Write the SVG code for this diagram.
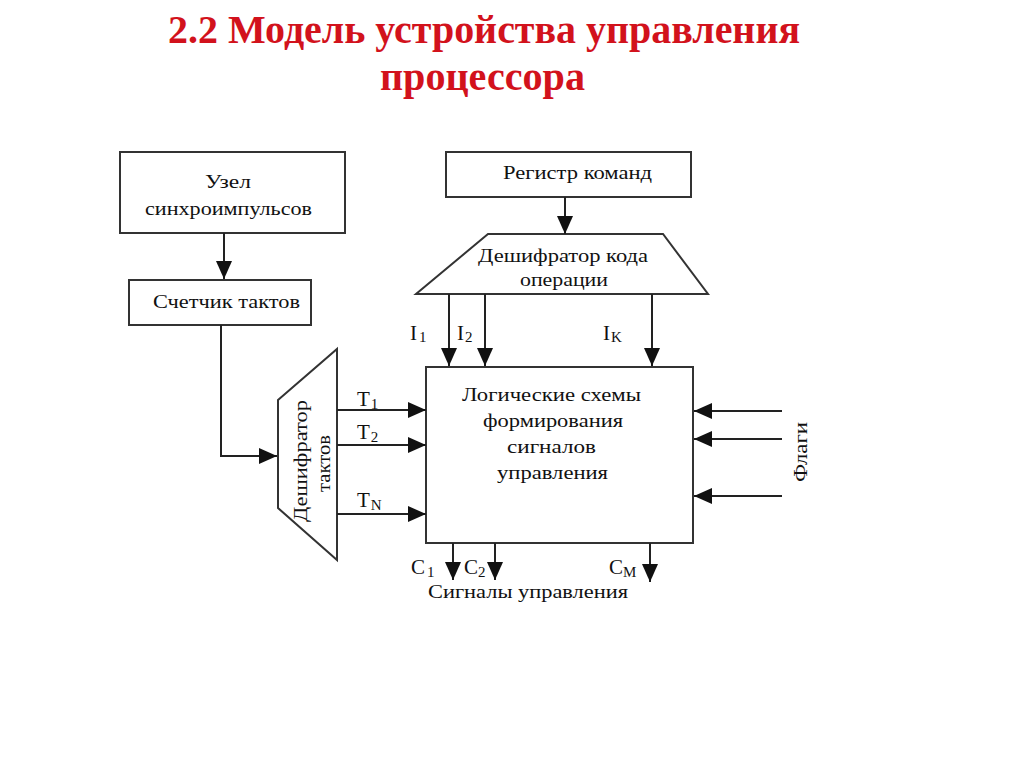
<svg xmlns="http://www.w3.org/2000/svg" width="1024" height="767" viewBox="0 0 1024 767">
<style>
.box{fill:#fff;stroke:#333;stroke-width:2}
.t{font-family:"Liberation Serif","Times New Roman",serif;font-size:18px;fill:#111}
.lab{font-family:"Liberation Serif","Times New Roman",serif;font-size:21px;fill:#111}
.sub{font-size:15px}
.title{font-family:"Liberation Serif","Times New Roman",serif;font-weight:bold;font-size:41px;fill:#d2121c}
.ln{stroke:#222;stroke-width:2;fill:none;marker-end:url(#ah)}
</style>
<defs>
<marker id="ah" markerUnits="userSpaceOnUse" viewBox="0 0 18 16" markerWidth="18" markerHeight="16" refX="18" refY="8" orient="auto">
<path d="M0,0 L18,8 L0,16 z" fill="#111"/>
</marker>
</defs>
<rect width="1024" height="767" fill="#fff"/>
<g id="title">
<text class="title" x="168" y="43" textLength="632" lengthAdjust="spacingAndGlyphs">2.2 Модель устройства управления</text>
<text class="title" x="380" y="90" textLength="205" lengthAdjust="spacingAndGlyphs">процессора</text>
</g>
<g id="uzel">
<rect class="box" x="120" y="152" width="225" height="81"/>
<text class="t" x="205" y="188" textLength="46" lengthAdjust="spacingAndGlyphs">Узел</text>
<text class="t" x="145" y="215" textLength="167" lengthAdjust="spacingAndGlyphs">синхроимпульсов</text>
</g>
<g id="schetchik">
<rect class="box" x="129" y="280" width="182" height="45"/>
<text class="t" x="153" y="308" textLength="147" lengthAdjust="spacingAndGlyphs">Счетчик тактов</text>
</g>
<g id="registr">
<rect class="box" x="446" y="152" width="245" height="45"/>
<text class="t" x="503" y="179" textLength="149" lengthAdjust="spacingAndGlyphs">Регистр команд</text>
</g>
<g id="deshifrator-koda">
<polygon class="box" points="488,234 663,234 708,294 416,294"/>
<text class="t" x="478" y="262" textLength="170" lengthAdjust="spacingAndGlyphs">Дешифратор кода</text>
<text class="t" x="520" y="286" textLength="88" lengthAdjust="spacingAndGlyphs">операции</text>
</g>
<g id="deshifrator-taktov">
<polygon class="box" points="278,400 337,349 337,560 278,508"/>
<text class="t" transform="translate(307,522) rotate(-90)" x="0" y="0" textLength="122" lengthAdjust="spacingAndGlyphs">Дешифратор</text>
<text class="t" transform="translate(330,492) rotate(-90)" x="0" y="0" textLength="57" lengthAdjust="spacingAndGlyphs">тактов</text>
</g>
<g id="logic">
<rect class="box" x="426" y="367" width="267" height="176"/>
<text class="t" x="462" y="401" textLength="179" lengthAdjust="spacingAndGlyphs">Логические схемы</text>
<text class="t" x="483" y="427" textLength="140" lengthAdjust="spacingAndGlyphs">формирования</text>
<text class="t" x="507" y="453" textLength="89" lengthAdjust="spacingAndGlyphs">сигналов</text>
<text class="t" x="497" y="479" textLength="111" lengthAdjust="spacingAndGlyphs">управления</text>
</g>
<g id="connectors">
<line class="ln" x1="224" y1="233" x2="224" y2="279"/>
<polyline class="ln" points="221,325 221,456 277,456"/>
<line class="ln" x1="565" y1="197" x2="565" y2="234"/>
<line class="ln" x1="449" y1="294" x2="449" y2="366"/>
<line class="ln" x1="485" y1="294" x2="485" y2="366"/>
<line class="ln" x1="652" y1="294" x2="652" y2="366"/>
<line class="ln" x1="337" y1="410" x2="426" y2="410"/>
<line class="ln" x1="337" y1="445" x2="426" y2="445"/>
<line class="ln" x1="337" y1="514" x2="426" y2="514"/>
<line class="ln" x1="453" y1="543" x2="453" y2="580"/>
<line class="ln" x1="495" y1="543" x2="495" y2="580"/>
<line class="ln" x1="650" y1="543" x2="650" y2="582"/>
<line class="ln" x1="782" y1="411" x2="694" y2="411"/>
<line class="ln" x1="782" y1="439" x2="694" y2="439"/>
<line class="ln" x1="782" y1="496" x2="694" y2="496"/>
</g>
<g id="labels">
<text class="lab" x="410" y="340">I<tspan class="sub" dx="2" dy="2">1</tspan></text>
<text class="lab" x="457" y="340">I<tspan class="sub" dx="1" dy="2">2</tspan></text>
<text class="lab" x="603" y="340">I<tspan class="sub" dx="1" dy="2">K</tspan></text>
<text class="lab" x="357" y="406">T<tspan class="sub" dx="1" dy="3">1</tspan></text>
<text class="lab" x="357" y="439">T<tspan class="sub" dx="1" dy="3">2</tspan></text>
<text class="lab" x="357" y="507">T<tspan class="sub" dx="1" dy="3">N</tspan></text>
<text class="lab" x="411" y="574">C<tspan class="sub" dx="2" dy="3">1</tspan></text>
<text class="lab" x="464" y="574">C<tspan class="sub" dy="3">2</tspan></text>
<text class="lab" x="609" y="574">C<tspan class="sub" dy="3">M</tspan></text>
<text class="t" x="428" y="598" textLength="200" lengthAdjust="spacingAndGlyphs">Сигналы управления</text>
<text class="t" transform="translate(807,482) rotate(-90)" x="0" y="0" textLength="60" lengthAdjust="spacingAndGlyphs">Флаги</text>
</g>
</svg>
